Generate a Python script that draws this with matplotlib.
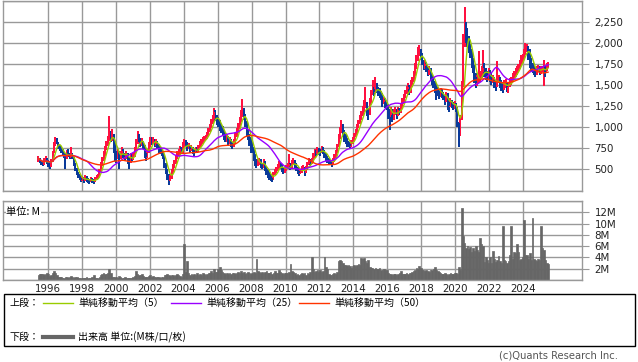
import matplotlib
matplotlib.use("Agg")
import matplotlib.pyplot as plt
from matplotlib.lines import Line2D
from matplotlib.patches import Rectangle
import numpy as np
import pandas as pd

# ---- data: monthly bars from June 1995 ----
start_year, start_month = 1995, 6
first_open = 610

close = [
    630, 600, 580, 560, 600, 620, 600,
    560, 540, 600, 700, 800, 850, 820, 760, 740, 720, 680, 660,
    640, 700, 680, 650, 690, 640, 560, 500, 450, 420, 400, 380,
    390, 370, 400, 380, 370, 360, 380, 370, 360, 380, 400, 420,
    480, 560, 620, 680, 750, 800, 850, 930, 880, 900, 820, 700,
    650, 700, 640, 680, 720, 680, 650, 680, 620, 600, 650, 640,
    660, 720, 820, 880, 850, 800, 830, 780, 700, 650, 700, 780,
    850, 830, 850, 800, 820, 780, 750, 720, 700, 650, 560, 480,
    420, 380, 400, 470, 540, 580, 640, 680, 700, 740, 720, 780,
    820, 800, 760, 780, 740, 760, 720, 700, 740, 720, 760, 800,
    820, 850, 870, 880, 900, 950, 1000, 1050, 1100, 1180, 1120, 1080,
    1050, 1000, 980, 950, 900, 860, 880, 820, 840, 800, 780, 820,
    900, 950, 1000, 1080, 1150, 1200, 1150, 1050, 950, 900, 850, 800,
    750, 650, 600, 560, 580, 600, 560, 540, 580, 520, 480, 450,
    420, 400, 380, 440, 480, 500, 520, 560, 540, 520, 480, 500,
    520, 540, 560, 520, 580, 600, 560, 520, 480, 460, 480, 500,
    520, 480, 500, 560, 600, 580, 600, 650, 700, 690, 720, 710,
    700, 740, 720, 680, 640, 620, 600, 580, 560, 600, 650, 700,
    780, 880, 960, 1000, 950, 900, 850, 820, 800, 780, 820, 850,
    900, 950, 1000, 1050, 1100, 1150, 1200, 1250, 1280, 1200, 1150, 1300,
    1400, 1450, 1420, 1480, 1450, 1420, 1400, 1380, 1300, 1320, 1280, 1250,
    1180, 1150, 1200, 1100, 1180, 1200, 1150, 1200, 1180, 1250, 1300, 1350,
    1400, 1450, 1480, 1420, 1500, 1550, 1620, 1700, 1800, 1880, 1900, 1850,
    1780, 1720, 1750, 1700, 1650, 1680, 1600, 1560, 1520, 1480, 1450, 1420,
    1380, 1420, 1400, 1360, 1320, 1380, 1300, 1250, 1300, 1280, 1250, 1270,
    1220, 1050, 900, 1100, 1500, 2000, 2150, 2100, 2050, 1950, 1900, 1800,
    1700, 1600, 1520, 1550, 1580, 1600, 1650, 1700, 1680, 1620, 1600, 1640,
    1600, 1560, 1580, 1520, 1500, 1540, 1580, 1520, 1500, 1480, 1500, 1520,
    1480, 1500, 1520, 1560, 1600, 1620, 1650, 1680, 1700, 1760, 1800, 1820,
    1880, 1920, 1950, 1900, 1800, 1720, 1700, 1680, 1650, 1680, 1700, 1670,
    1680, 1690, 1700, 1650, 1720, 1740,
]

high = [
    660, 640, 610, 600, 630, 660, 640,
    610, 580, 620, 720, 830, 880, 870, 830, 790, 770, 740, 700,
    690, 730, 740, 700, 760, 700, 650, 570, 520, 470, 440, 420,
    420, 410, 430, 420, 400, 390, 410, 400, 390, 410, 430, 450,
    500, 590, 650, 720, 780, 840, 900, 1130, 960, 980, 920, 840,
    720, 740, 720, 720, 760, 740, 700, 720, 690, 650, 690, 680,
    690, 760, 860, 950, 920, 870, 870, 840, 790, 720, 740, 820,
    880, 880, 880, 860, 860, 840, 800, 770, 740, 720, 670, 580,
    500, 440, 430, 500, 560, 610, 670, 720, 740, 780, 760, 820,
    860, 850, 820, 810, 790, 790, 770, 740, 770, 760, 790, 840,
    860, 880, 900, 910, 940, 990, 1040, 1100, 1150, 1230, 1200, 1140,
    1120, 1080, 1040, 1010, 970, 930, 920, 900, 880, 860, 830, 860,
    930, 990, 1050, 1120, 1200, 1330, 1230, 1160, 1070, 980, 920, 880,
    820, 760, 680, 620, 620, 640, 620, 580, 620, 600, 540, 500,
    470, 440, 420, 470, 510, 530, 560, 600, 580, 560, 530, 530,
    550, 580, 680, 580, 610, 640, 610, 570, 530, 500, 510, 540,
    550, 530, 540, 590, 630, 620, 630, 690, 740, 730, 760, 750,
    740, 780, 760, 730, 700, 660, 640, 620, 600, 640, 680, 730,
    800, 920, 1000, 1090, 1040, 970, 920, 870, 840, 820, 850, 880,
    930, 980, 1040, 1090, 1140, 1190, 1250, 1320, 1480, 1300, 1230, 1340,
    1440, 1560, 1480, 1600, 1520, 1480, 1460, 1430, 1400, 1360, 1340, 1300,
    1270, 1220, 1240, 1220, 1220, 1240, 1220, 1240, 1230, 1290, 1340, 1390,
    1440, 1490, 1520, 1500, 1560, 1600, 1670, 1760, 1850, 1950, 1970, 1920,
    1880, 1800, 1790, 1770, 1720, 1720, 1700, 1630, 1590, 1550, 1510, 1480,
    1440, 1460, 1450, 1420, 1380, 1420, 1400, 1320, 1340, 1320, 1300, 1310,
    1290, 1240, 1060, 1150, 1550, 2100, 2420, 2250, 2180, 2080, 1990, 1920,
    1820, 1740, 1640, 1620, 1900, 1660, 1720, 1910, 1760, 1700, 1660, 1700,
    1680, 1640, 1620, 1600, 1560, 1780, 1620, 1600, 1560, 1540, 1560, 1570,
    1540, 1540, 1580, 1600, 1640, 1660, 1700, 1720, 1750, 1800, 1850, 1870,
    1930, 2000, 1990, 1960, 1920, 1820, 1760, 1730, 1710, 1720, 1740, 1730,
    1720, 1730, 1800, 1720, 1760, 1770,
]

low = [
    590, 570, 550, 540, 550, 590, 560,
    530, 510, 530, 590, 690, 780, 800, 740, 720, 690, 660, 630,
    500, 620, 650, 620, 640, 620, 540, 480, 430, 400, 370, 350,
    360, 340, 360, 350, 340, 330, 350, 340, 330, 350, 380, 390,
    410, 470, 540, 600, 660, 730, 780, 840, 820, 840, 700, 600,
    580, 620, 500, 620, 660, 640, 600, 620, 560, 500, 580, 600,
    610, 650, 710, 800, 820, 760, 780, 740, 640, 600, 640, 690,
    770, 790, 800, 760, 780, 740, 700, 680, 660, 620, 520, 440,
    380, 320, 360, 390, 460, 520, 560, 620, 660, 680, 680, 700,
    760, 770, 720, 740, 700, 720, 680, 660, 690, 690, 710, 750,
    780, 800, 830, 850, 860, 890, 940, 990, 1040, 1080, 1070, 1030,
    1000, 950, 930, 900, 850, 820, 820, 780, 800, 760, 740, 770,
    800, 880, 930, 980, 1060, 1120, 1080, 1000, 880, 850, 780, 700,
    700, 600, 540, 520, 540, 550, 520, 500, 520, 480, 430, 400,
    380, 360, 350, 370, 430, 460, 480, 510, 500, 470, 440, 460,
    480, 500, 520, 490, 510, 560, 520, 480, 440, 420, 440, 460,
    480, 420, 460, 490, 550, 550, 560, 590, 640, 660, 680, 670,
    660, 690, 680, 640, 600, 580, 560, 550, 530, 550, 590, 640,
    690, 770, 860, 930, 880, 830, 800, 770, 760, 750, 770, 800,
    840, 880, 930, 990, 1040, 1080, 1130, 1180, 1230, 1130, 1080, 1140,
    1290, 1380, 1370, 1400, 1400, 1370, 1350, 1320, 1240, 1270, 1230, 1200,
    1100, 970, 1120, 1060, 1090, 1150, 1100, 1130, 1140, 1170, 1230, 1280,
    1340, 1390, 1420, 1380, 1410, 1480, 1540, 1610, 1690, 1780, 1840, 1800,
    1740, 1680, 1690, 1650, 1610, 1620, 1550, 1500, 1460, 1400, 1320, 1370,
    1330, 1360, 1350, 1320, 1260, 1300, 1200, 1180, 1240, 1230, 1200, 1220,
    1180, 1000, 760, 890, 1080, 1480, 1950, 2000, 1950, 1880, 1820, 1700,
    1640, 1520, 1460, 1490, 1520, 1540, 1580, 1620, 1600, 1560, 1530, 1570,
    1540, 1500, 1520, 1460, 1430, 1470, 1520, 1460, 1430, 1400, 1440, 1460,
    1420, 1400, 1470, 1500, 1540, 1570, 1600, 1620, 1650, 1690, 1740, 1760,
    1810, 1850, 1890, 1800, 1700, 1650, 1640, 1620, 1600, 1620, 1650, 1620,
    1630, 1650, 1490, 1600, 1660, 1700,
]

volume_m = [
    0.9, 1.0, 1.1, 1.0, 0.8, 1.0, 1.2,
    1.0, 0.7, 0.8, 1.2, 1.6, 1.3, 0.9, 0.6, 0.5, 0.6, 0.4, 0.4,
    0.5, 0.6, 0.4, 0.5, 0.7, 0.5, 0.4, 0.5, 0.6, 0.4, 0.3, 0.3,
    0.3, 0.4, 0.3, 0.5, 0.3, 0.3, 0.4, 0.5, 0.8, 0.4, 0.3, 0.3,
    0.5, 0.8, 1.0, 1.2, 1.1, 1.0, 1.3, 1.9, 1.2, 0.6, 0.5, 0.5,
    0.6, 0.4, 0.7, 0.5, 0.4, 0.3, 0.5, 0.4, 0.3, 0.3, 0.4, 0.4,
    0.5, 0.7, 1.6, 1.1, 0.9, 0.8, 1.0, 0.7, 0.6, 0.5, 0.6, 0.7,
    0.9, 0.6, 0.7, 0.5, 0.6, 0.5, 0.6, 0.4, 0.5, 0.6, 0.8, 0.9,
    1.0, 0.8, 0.7, 0.9, 0.8, 0.7, 0.9, 1.0, 0.8, 0.7, 0.6, 1.0,
    6.3, 1.5, 3.3, 1.2, 0.9, 1.0, 0.8, 1.1, 0.9, 1.2, 0.8, 1.0,
    0.9, 1.2, 1.0, 0.8, 1.1, 1.3, 1.2, 1.6, 1.3, 1.9, 1.5, 1.4,
    1.9, 2.3, 1.8, 1.4, 1.2, 1.1, 1.3, 1.0, 1.2, 1.1, 1.3, 1.2,
    1.1, 1.3, 1.5, 1.2, 1.6, 1.3, 1.5, 1.0, 1.2, 1.4, 1.3, 1.1,
    1.3, 1.5, 1.2, 3.7, 1.6, 1.4, 1.3, 1.5, 1.2, 1.4, 1.6, 1.3,
    1.2, 1.5, 1.1, 1.2, 1.6, 1.3, 1.2, 1.8, 1.4, 1.2, 1.1, 1.3,
    1.2, 1.3, 1.5, 2.8, 1.6, 1.4, 1.2, 0.9, 1.0, 0.8, 1.0, 1.2,
    1.1, 1.3, 0.8, 1.2, 1.0, 1.5, 4.0, 2.0, 1.5, 1.6, 1.7, 1.5,
    1.7, 1.4, 1.6, 4.0, 2.3, 2.0, 1.0, 0.8, 0.9, 1.0, 1.2, 1.1,
    1.4, 3.4, 3.5, 3.3, 3.0, 2.7, 2.6, 2.4, 2.6, 2.5, 2.2, 2.4,
    2.6, 2.5, 2.7, 2.8, 2.6, 3.9, 3.8, 3.9, 3.4, 3.0, 3.5, 2.3,
    2.2, 2.1, 2.0, 2.1, 1.9, 2.0, 2.1, 1.8, 1.7, 1.9, 1.8, 1.7,
    1.3, 1.1, 1.0, 0.9, 1.0, 1.1, 0.9, 1.0, 1.2, 1.6, 1.1, 1.0,
    1.0, 1.2, 1.1, 1.3, 1.2, 1.4, 1.6, 1.8, 2.2, 2.0, 2.4, 2.1,
    1.8, 1.7, 1.6, 1.7, 1.6, 1.5, 1.7, 1.8, 2.0, 2.3, 1.8, 1.6,
    1.5, 1.2, 1.0, 1.1, 1.3, 1.0, 0.9, 1.1, 1.2, 1.0, 1.1, 1.3,
    1.2, 1.1, 2.3, 1.8, 12.8, 7.8, 6.5, 5.6, 6.1, 5.5, 5.8, 5.0,
    5.6, 5.2, 6.0, 5.4, 5.0, 7.4, 6.4, 6.1, 3.2, 4.0, 3.5, 3.0,
    4.0, 3.0, 5.2, 3.8, 3.2, 3.5, 4.2, 3.4, 3.0, 9.6, 3.6, 3.4,
    3.0, 3.3, 4.5, 9.6, 3.8, 5.0, 4.7, 6.3, 5.0, 3.5, 3.8, 4.0,
    10.7, 4.5, 4.5, 3.8, 4.7, 3.6, 10.9, 3.8, 3.5, 3.4, 3.7, 3.6,
    9.6, 5.6, 5.4, 3.6, 3.0, 2.9,
]

price_ticks = [500, 750, 1000, 1250, 1500, 1750, 2000, 2250]
volume_ticks = [2, 4, 6, 8, 10, 12]
year_ticks = list(range(1996, 2025, 2))
ma_periods = [5, 25, 50]
ma_labels = ["単純移動平均（5）", "単純移動平均（25）", "単純移動平均（50）"]
volume_label = "出来高 単位:(M株/口/枚)"

# ---- styling ----
UP = "#FF1040"
DOWN = "#0A3A9A"
MA_COLORS = ["#99CC00", "#9900FF", "#FF3300"]
GRID = "#999999"
VOLC = "#666666"
JP = ["Noto Sans CJK JP", "DejaVu Sans"]
plt.rcParams["font.family"] = ["DejaVu Sans", "Noto Sans CJK JP"]

n = len(close)
close_a = np.array(close, float)
open_a = np.concatenate([[first_open], close_a[:-1]])
high_a = np.array(high, float)
low_a = np.array(low, float)
vol_a = np.array(volume_m, float)
t = start_year + (start_month - 1 + np.arange(n) + 0.5) / 12.0

W, H = 638, 362
fig = plt.figure(figsize=(W / 100, H / 100), dpi=100)
fig.patch.set_facecolor("white")

def px_axes(x0, y0, x1, y1):
    return fig.add_axes([x0 / W, 1 - y1 / H, (x1 - x0) / W, (y1 - y0) / H])

xmin = 1996 + (3 - 47.7) / 16.986
xmax = 1996 + (582 - 47.7) / 16.986

ax = px_axes(3, 0.5, 582, 190.5)
axv = px_axes(3, 201, 582, 280)

for a in (ax, axv):
    a.set_xlim(xmin, xmax)
    for s in a.spines.values():
        s.set_color(GRID)
        s.set_linewidth(1.0)
    a.set_xticks(year_ticks)
    a.grid(True, color=GRID, linewidth=1.0)
    a.set_axisbelow(True)
    a.yaxis.tick_right()
    a.tick_params(axis="y", length=5, color=GRID, labelsize=7.4, pad=4, labelcolor="#222222")
    a.tick_params(axis="x", length=0)

# price panel
ax.set_ylim(250, 2500)
ax.set_yticks(list(range(250, 2501, 250)))
ax.set_yticklabels(["" if v not in price_ticks else f"{v:,}" for v in range(250, 2501, 250)])
ax.set_xticklabels([])
for tl, v in zip(ax.yaxis.get_major_ticks(), range(250, 2501, 250)):
    if v not in price_ticks:
        tl.tick2line.set_visible(False)

bw = 0.09
up = close_a >= open_a
colors = np.where(up, UP, DOWN)
ax.vlines(t, low_a, high_a, colors=colors, linewidth=1.2, zorder=2, antialiased=False)
body_lo = np.minimum(open_a, close_a)
body_h = np.maximum(np.abs(close_a - open_a), 10)
ax.bar(t, body_h, bottom=body_lo, width=bw, color=colors, linewidth=0, zorder=2,
       antialiased=False)

s = pd.Series(close_a)
for p, c in zip(ma_periods, MA_COLORS):
    ma = s.rolling(p, min_periods=1).mean().values
    ax.plot(t, ma, color=c, linewidth=1.0, zorder=3)

# volume panel
axv.set_ylim(0, 14)
axv.set_yticks(list(range(0, 15, 2)))
axv.set_yticklabels(["" if v not in volume_ticks else f"{v}M" for v in range(0, 15, 2)])
for tl, v in zip(axv.yaxis.get_major_ticks(), range(0, 15, 2)):
    if v not in volume_ticks:
        tl.tick2line.set_visible(False)
axv.bar(t, vol_a, width=0.1, color=VOLC, edgecolor=VOLC, linewidth=0.5, zorder=2)
axv.set_xticklabels([str(y) for y in year_ticks], fontsize=7.4, color="#222222")
axv.tick_params(axis="x", pad=3)
axv.text(0.006, 0.93, "単位: M", transform=axv.transAxes, fontsize=7.4,
         family=JP, va="top", ha="left", zorder=5,
         bbox=dict(facecolor="white", edgecolor="none", pad=0.5))

# legend box (pixel overlay)
ov = fig.add_axes([0, 0, 1, 1], facecolor="none")
ov.set_xlim(0, W)
ov.set_ylim(H, 0)
ov.axis("off")
ov.add_patch(Rectangle((3.5, 294), 631, 52, fill=False, edgecolor="black", linewidth=1.0))
ov.text(10, 303, "上段：", fontsize=7.2, family=JP, va="center", ha="left")
seg_x = [43, 171, 299]
for sx, c, lab in zip(seg_x, MA_COLORS, ma_labels):
    ov.add_line(Line2D([sx, sx + 30], [303, 303], color=c, linewidth=1.0))
    ov.text(sx + 35, 303, lab, fontsize=7.2, family=JP, va="center", ha="left")
ov.text(10, 337, "下段：", fontsize=7.2, family=JP, va="center", ha="left")
ov.add_line(Line2D([43, 73], [337, 337], color=VOLC, linewidth=3.0))
ov.text(78, 337, volume_label, fontsize=7.2, family=JP, va="center", ha="left")
ov.text(618, 356, "(c)Quants Research Inc.", fontsize=7.2, color="#555555",
        va="center", ha="right")

fig.savefig("out.png", dpi=100, facecolor="white")
